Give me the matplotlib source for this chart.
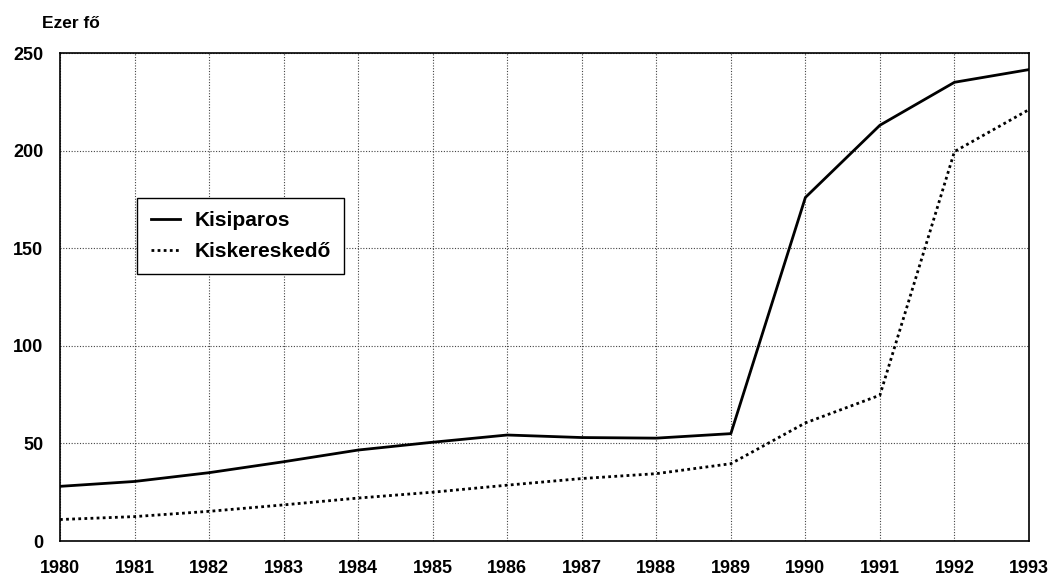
import matplotlib.pyplot as plt

years = list(range(1980, 1994))
kisiparos = [28, 30.5, 35, 40.6, 46.6, 50.6, 54.3, 53, 52.7, 55, 176, 213, 235, 241.5]
kiskereskedo = [11, 12.5, 15.2, 18.5, 22, 25, 28.6, 32, 34.5, 39.6, 60.5, 74.7, 199.5, 221]
y_ticks = [0, 50, 100, 150, 200, 250]

plt.rcParams['font.family'] = ['Liberation Sans', 'DejaVu Sans']

fig = plt.figure(figsize=(10.58, 5.76), dpi=100)
ax = fig.add_axes([60 / 1058, 35 / 576, 969 / 1058, 488 / 576])

ax.plot(years, kisiparos, color='black', lw=2.0, label='Kisiparos')
ax.plot(years, kiskereskedo, color='black', lw=2.0, linestyle=(0, (1, 1.2)),
        label='Kiskereskedő')

ax.set_xlim(years[0], years[-1])
ax.set_ylim(0, 250)
ax.set_xticks(years)
ax.set_yticks(y_ticks)
ax.tick_params(length=0, labelsize=13)
ax.tick_params(axis='x', pad=14)
ax.tick_params(axis='y', pad=12)
for lab in ax.get_xticklabels() + ax.get_yticklabels():
    lab.set_fontweight('bold')

ax.grid(True, color='#444444', linestyle=(0, (1, 1.5)), lw=0.8)
for s in ax.spines.values():
    s.set_color('black')
    s.set_linewidth(1.2)

leg = ax.legend(loc='upper left', bbox_to_anchor=(0.0795, 0.703), borderaxespad=0,
                fancybox=False, edgecolor='black', framealpha=1, handlelength=1.4,
                handletextpad=0.7, prop={'size': 15, 'weight': 'bold'},
                borderpad=0.65, labelspacing=0.55)
leg.get_frame().set_linewidth(1.0)

fig.text(42 / 1058, 1 - 24 / 576, 'Ezer fő', fontsize=12.5, fontweight='bold', va='center')

fig.savefig('out.png', dpi=100)
